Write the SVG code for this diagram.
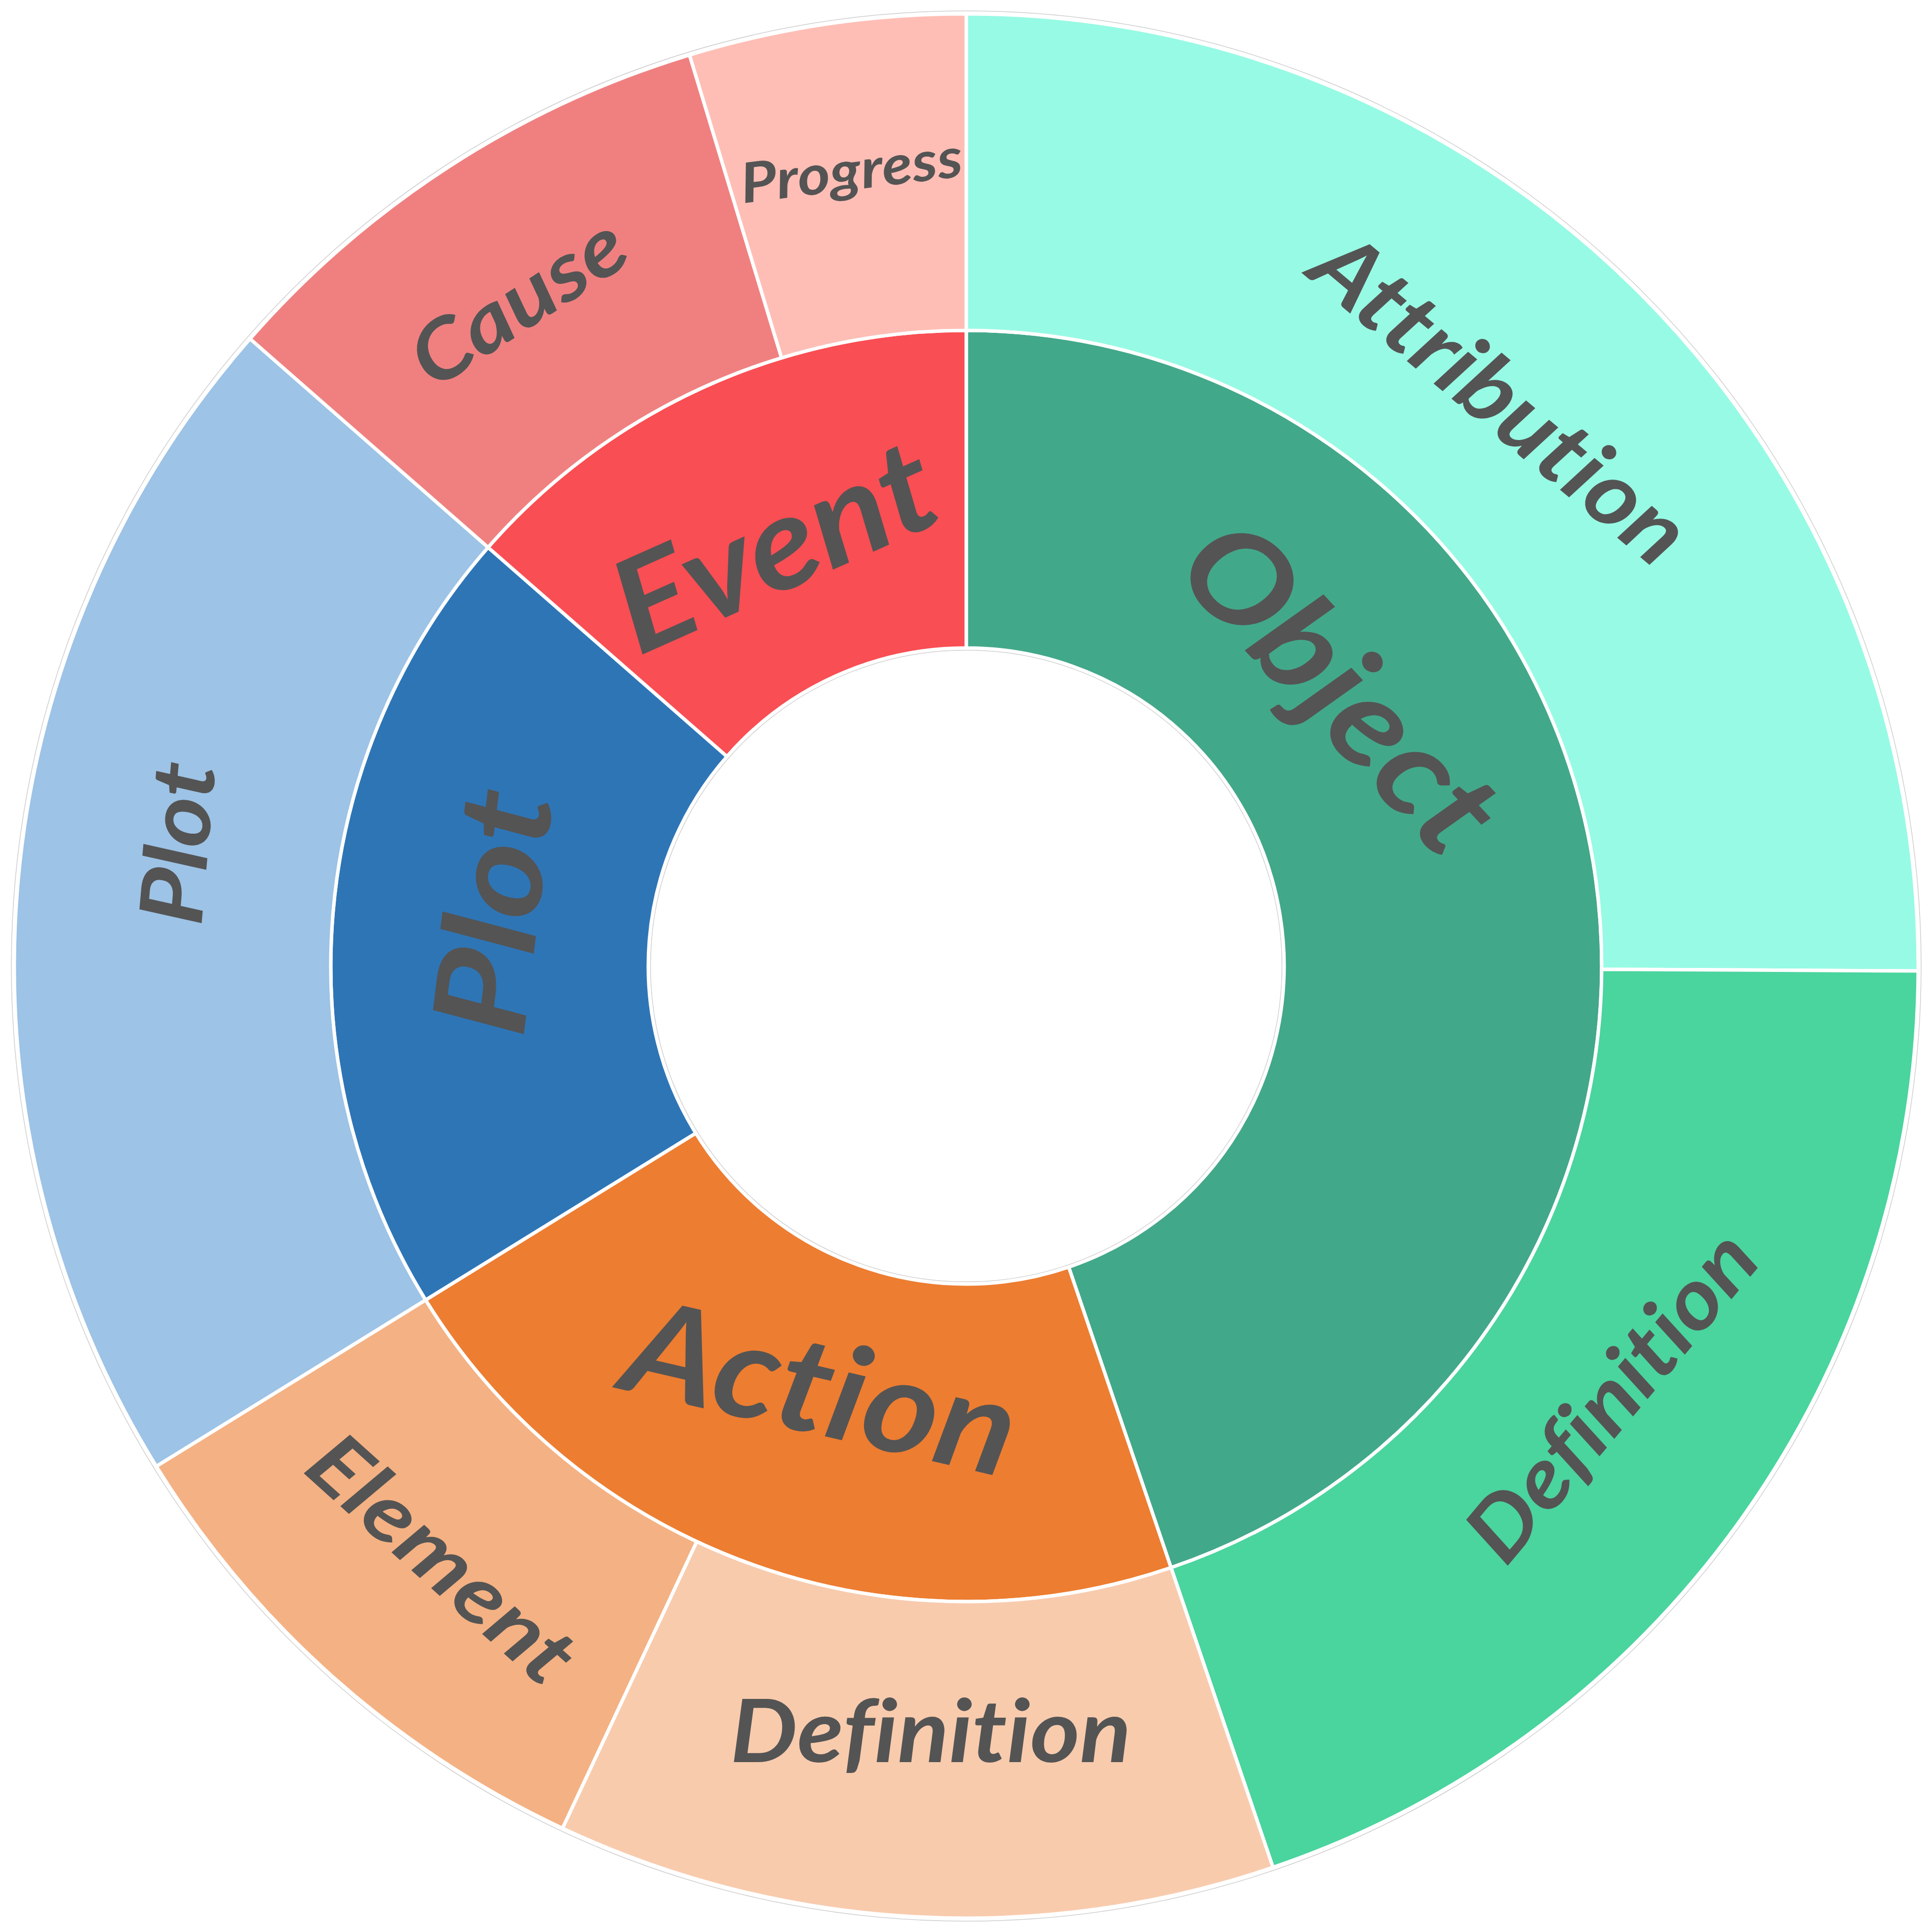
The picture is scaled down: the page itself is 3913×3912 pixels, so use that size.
<svg xmlns="http://www.w3.org/2000/svg" width="3913" height="3912" viewBox="0 0 3913 3912">
<style>
.seg{stroke:#ffffff;stroke-width:7;stroke-linejoin:round}
.lbl{font-family:Lato,"Open Sans","Liberation Sans",sans-serif;font-weight:bold;font-style:italic;fill:#545454;text-anchor:middle;font-variant-ligatures:none;font-feature-settings:"liga" 0,"dlig" 0,"clig" 0}
.rim{fill:none;stroke:#cfcfcf;stroke-width:1.5}
</style>
<rect width="3913" height="3912" fill="#ffffff"/>
<circle class="rim" cx="1957" cy="1956" r="639.5"/>
<circle class="rim" cx="1957" cy="1956" r="1934"/>
<g id="object">
<path class="seg" fill="#42A88A" d="M1957,669 A1287,1287 0 0 1 2371.8,3174.3 L2164.5,2565.6 A644,644 0 0 0 1957,1312 Z"/>
<text class="lbl" font-size="261" textLength="810" lengthAdjust="spacingAndGlyphs" transform="translate(2648,1453) rotate(47)">Object</text>
</g>
<g id="action">
<path class="seg" fill="#ED7D31" d="M2371.8,3174.3 A1287,1287 0 0 1 862.0,2632.3 L1409.1,2294.4 A644,644 0 0 0 2164.5,2565.6 Z"/>
<text class="lbl" font-size="267" textLength="805" lengthAdjust="spacingAndGlyphs" transform="translate(1643,2902) rotate(13)">Action</text>
</g>
<g id="plot">
<path class="seg" fill="#2E75B6" d="M862.0,2632.3 A1287,1287 0 0 1 988.6,1108.3 L1472.4,1531.8 A644,644 0 0 0 1409.1,2294.4 Z"/>
<text class="lbl" font-size="261" textLength="498" lengthAdjust="spacingAndGlyphs" transform="translate(1090,1858) rotate(-83)">Plot</text>
</g>
<g id="event">
<path class="seg" fill="#F94E53" d="M988.6,1108.3 A1287,1287 0 0 1 1957,669 L1957,1312 A644,644 0 0 0 1472.4,1531.8 Z"/>
<text class="lbl" font-size="262" textLength="687" lengthAdjust="spacingAndGlyphs" transform="translate(1605,1190) rotate(-24)">Event</text>
</g>
<g id="attribution">
<path class="seg" fill="#97FAE4" d="M1957,28 A1928,1928 0 0 1 3885,1966.1 L3244,1962.7 A1287,1287 0 0 0 1957,669 Z"/>
<text class="lbl" font-size="184" textLength="930" lengthAdjust="spacingAndGlyphs" transform="translate(2998,856) rotate(40)">Attribution</text>
</g>
<g id="object-definition">
<path class="seg" fill="#4AD49E" d="M3885,1966.1 A1928,1928 0 0 1 2578.3,3781.1 L2371.8,3174.3 A1287,1287 0 0 0 3244,1962.7 Z"/>
<text class="lbl" font-size="172" textLength="812" lengthAdjust="spacingAndGlyphs" transform="translate(3310,2865) rotate(-50)">Definition</text>
</g>
<g id="action-definition">
<path class="seg" fill="#F8CBAD" d="M2578.3,3781.1 A1928,1928 0 0 1 1139.2,3701.9 L1411.1,3121.5 A1287,1287 0 0 0 2371.8,3174.3 Z"/>
<text class="lbl" font-size="177" textLength="812" lengthAdjust="spacingAndGlyphs" transform="translate(1885,3568)">Definition</text>
</g>
<g id="element">
<path class="seg" fill="#F4B183" d="M1139.2,3701.9 A1928,1928 0 0 1 316.6,2969.1 L862.0,2632.3 A1287,1287 0 0 0 1411.1,3121.5 Z"/>
<text class="lbl" font-size="167" textLength="663" lengthAdjust="spacingAndGlyphs" transform="translate(856,3200) rotate(42)">Element</text>
</g>
<g id="plot-outer">
<path class="seg" fill="#9DC3E6" d="M316.6,2969.1 A1928,1928 0 0 1 506.4,686.0 L988.6,1108.3 A1287,1287 0 0 0 862.0,2632.3 Z"/>
<text class="lbl" font-size="177" textLength="329" lengthAdjust="spacingAndGlyphs" transform="translate(422,1713) rotate(-85)">Plot</text>
</g>
<g id="cause">
<path class="seg" fill="#F08080" d="M506.4,686.0 A1928,1928 0 0 1 1396.5,111.3 L1582.9,724.6 A1287,1287 0 0 0 988.6,1108.3 Z"/>
<text class="lbl" font-size="165" textLength="486" lengthAdjust="spacingAndGlyphs" transform="translate(1081,659) rotate(-33)">Cause</text>
</g>
<g id="progress">
<path class="seg" fill="#FEBEB5" d="M1396.5,111.3 A1928,1928 0 0 1 1957,28 L1957,669 A1287,1287 0 0 0 1582.9,724.6 Z"/>
<text class="lbl" font-size="112" textLength="452" lengthAdjust="spacingAndGlyphs" transform="translate(1729,384) rotate(-7)">Progress</text>
</g>
</svg>
